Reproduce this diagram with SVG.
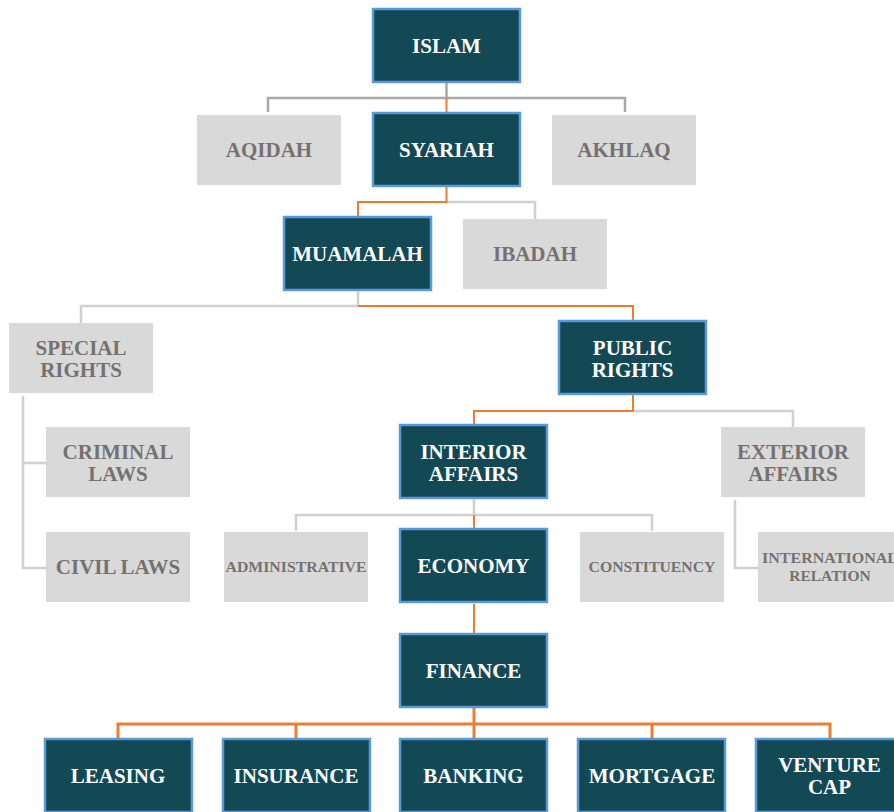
<svg xmlns="http://www.w3.org/2000/svg" width="894" height="812" viewBox="0 0 894 812">
<style>
.d{fill:#134955;stroke:#5B9BD5;stroke-width:2.5}
.g{fill:#D9D9D9}
text{font-family:"Liberation Serif","Times New Roman",serif;font-weight:bold;text-anchor:middle;font-size:21px}
.dt{fill:#FFFFFF}
.gt{fill:#767171}
.sm{font-size:15.5px}
.c{fill:none;stroke-linejoin:miter}
.gr{stroke:#D0D0D0;stroke-width:2.5}
.gd{stroke:#A9A9A9;stroke-width:2.5}
.or{stroke:#ED7D31;stroke-width:2}
.ob{stroke:#ED7D31;stroke-width:3}
</style>
<rect width="894" height="812" fill="#FFFFFF"/>
<g id="connectors">
<path class="c gd" d="M446.5 83 V98 M268 112 V98 H625 V112"/>
<path class="c or" d="M446.5 98 V113"/>
<path class="c gr" d="M446.5 202 H535 V219"/>
<path class="c or" d="M446.5 187 V202 H358 V217"/>
<path class="c gr" d="M358 291 V306 H81 V323"/>
<path class="c or" d="M358 306 H633 V321"/>
<path class="c gr" d="M633 411 H793 V427"/>
<path class="c or" d="M633 395 V411 H474 V425"/>
<path class="c gr" d="M23 396 V568 H46 M23 463 H46"/>
<path class="c gr" d="M474 499 V515 M296 531 V515 H652 V531"/>
<path class="c or" d="M474 515 V529"/>
<path class="c gr" d="M735 500 V568 H758"/>
<path class="c or" d="M474 604 V634"/>
<path class="c ob" d="M474 708 V724 M118 739 V724 H830 V739 M296 724 V739 M474 724 V739 M652 724 V739"/>
</g>
<g id="islam"><rect class="d" x="373" y="9" width="147" height="73"/><text class="dt" x="446.5" y="52.5">ISLAM</text></g>
<g id="aqidah"><rect class="g" x="197" y="115" width="144" height="70"/><text class="gt" x="269" y="157">AQIDAH</text></g>
<g id="syariah"><rect class="d" x="373" y="113" width="147" height="73"/><text class="dt" x="446.5" y="157">SYARIAH</text></g>
<g id="akhlaq"><rect class="g" x="552" y="115" width="144" height="70"/><text class="gt" x="624" y="157">AKHLAQ</text></g>
<g id="muamalah"><rect class="d" x="284" y="217" width="147" height="73"/><text class="dt" x="357.5" y="261">MUAMALAH</text></g>
<g id="ibadah"><rect class="g" x="463" y="219" width="144" height="70"/><text class="gt" x="535" y="261">IBADAH</text></g>
<g id="special-rights"><rect class="g" x="9" y="323" width="144" height="70"/><text class="gt" x="81" y="355">SPECIAL</text><text class="gt" x="81" y="377">RIGHTS</text></g>
<g id="public-rights"><rect class="d" x="559" y="321" width="147" height="73"/><text class="dt" x="632.5" y="355">PUBLIC</text><text class="dt" x="632.5" y="377">RIGHTS</text></g>
<g id="criminal-laws"><rect class="g" x="46" y="427" width="144" height="70"/><text class="gt" x="118" y="459">CRIMINAL</text><text class="gt" x="118" y="481">LAWS</text></g>
<g id="interior-affairs"><rect class="d" x="400" y="425" width="147" height="73"/><text class="dt" x="473.5" y="459">INTERIOR</text><text class="dt" x="473.5" y="481">AFFAIRS</text></g>
<g id="exterior-affairs"><rect class="g" x="721" y="427" width="144" height="70"/><text class="gt" x="793" y="459">EXTERIOR</text><text class="gt" x="793" y="481">AFFAIRS</text></g>
<g id="civil-laws"><rect class="g" x="46" y="532" width="144" height="70"/><text class="gt" x="118" y="574">CIVIL LAWS</text></g>
<g id="administrative"><rect class="g" x="224" y="532" width="144" height="70"/><text class="gt sm" x="296" y="572" textLength="141" lengthAdjust="spacingAndGlyphs">ADMINISTRATIVE</text></g>
<g id="economy"><rect class="d" x="400" y="529" width="147" height="73"/><text class="dt" x="473.5" y="573">ECONOMY</text></g>
<g id="constituency"><rect class="g" x="580" y="532" width="144" height="70"/><text class="gt sm" x="652" y="572" textLength="127" lengthAdjust="spacingAndGlyphs">CONSTITUENCY</text></g>
<g id="international-relation"><rect class="g" x="758" y="532" width="144" height="70"/><text class="gt sm" x="830" y="563" textLength="136" lengthAdjust="spacingAndGlyphs">INTERNATIONAL</text><text class="gt sm" x="830" y="581">RELATION</text></g>
<g id="finance"><rect class="d" x="400" y="634" width="147" height="73"/><text class="dt" x="473.5" y="678">FINANCE</text></g>
<g id="leasing"><rect class="d" x="45" y="739" width="147" height="73"/><text class="dt" x="118" y="783">LEASING</text></g>
<g id="insurance"><rect class="d" x="223" y="739" width="147" height="73"/><text class="dt" x="296" y="783">INSURANCE</text></g>
<g id="banking"><rect class="d" x="400" y="739" width="147" height="73"/><text class="dt" x="473.5" y="783">BANKING</text></g>
<g id="mortgage"><rect class="d" x="578" y="739" width="147" height="73"/><text class="dt" x="652" y="783">MORTGAGE</text></g>
<g id="venture-cap"><rect class="d" x="756" y="739" width="147" height="73"/><text class="dt" x="829.5" y="772">VENTURE</text><text class="dt" x="829.5" y="794">CAP</text></g>
</svg>
